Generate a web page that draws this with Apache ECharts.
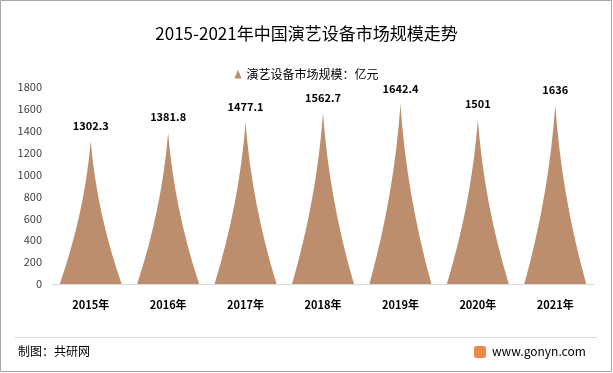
<!DOCTYPE html>
<html>
<head>
<meta charset="utf-8">
<script src="https://cdn.jsdelivr.net/npm/echarts@6/dist/echarts.min.js"></script>
<style>
  html, body { margin: 0; padding: 0; background: #fff; }
  #chart { width: 613px; height: 373px; }
</style>
</head>
<body>
<div id="chart"></div>
<script>
// 数据
var years = ['2015年', '2016年', '2017年', '2018年', '2019年', '2020年', '2021年'];
var marketSize = [1302.3, 1381.8, 1477.1, 1562.7, 1642.4, 1501, 1636];
var seriesName = '演艺设备市场规模：亿元';

// 山峰形状（两侧内凹）
var peakPath = 'path://M0,10 C2.67,6.67 4.33,3.33 5,0 C5.67,3.33 7.33,6.67 10,10 Z';
var font = '"Microsoft YaHei", "Noto Sans CJK SC", sans-serif';

var chart = echarts.init(document.getElementById('chart'));
var option = {
  backgroundColor: '#fff',
  title: {
    text: '2015-2021年中国演艺设备市场规模走势',
    left: 'center',
    top: 20,
    textStyle: { fontSize: 17, fontWeight: 'normal', color: '#000', fontFamily: font }
  },
  legend: {
    data: [{ name: seriesName, icon: 'triangle' }],
    top: 63,
    left: 'center',
    itemWidth: 7,
    itemHeight: 9,
    itemGap: 4,
    textStyle: { fontSize: 12, color: '#000', fontFamily: font }
  },
  grid: { left: 52, right: 19, top: 87, bottom: 89 },
  xAxis: {
    type: 'category',
    data: years,
    axisTick: { show: false },
    axisLine: { lineStyle: { color: '#d9d9d9' } },
    axisLabel: { color: '#000', fontWeight: 'bold', fontSize: 11, margin: 15, fontFamily: font }
  },
  yAxis: {
    type: 'value',
    min: 0,
    max: 1800,
    interval: 200,
    splitLine: { show: false },
    axisLine: { show: false },
    axisTick: { show: false },
    axisLabel: {
      color: '#404040', fontSize: 11, margin: 10, fontFamily: font,
      formatter: function (v) { return String(v); }
    }
  },
  series: [{
    name: seriesName,
    type: 'pictorialBar',
    symbol: peakPath,
    barCategoryGap: '20%',
    data: marketSize,
    itemStyle: { color: '#bd8e6e' },
    label: {
      show: true,
      position: 'top',
      distance: 10,
      color: '#000',
      fontWeight: 'bold',
      fontSize: 11,
      fontFamily: font
    }
  }],
  graphic: [
    { type: 'rect', shape: { x: 0.5, y: 0.5, width: 611, height: 371 },
      style: { fill: 'none', stroke: '#a6a6a6', lineWidth: 1 } },
    { type: 'line', shape: { x1: 15, y1: 337.5, x2: 597, y2: 337.5 },
      style: { stroke: '#d9d9d9', lineWidth: 1 } },
    { type: 'text', left: 18, top: 345,
      style: { text: '制图：共研网', fontSize: 12, fill: '#000', fontFamily: font } },
    { type: 'rect', shape: { x: 474, y: 346, width: 12, height: 12, r: 2 },
      style: { fill: '#f08a4b' } },
    { type: 'text', left: 492, top: 345,
      style: { text: 'www.gonyn.com', fontSize: 12, fill: '#000', fontFamily: font } }
  ]
};
chart.setOption(option);
</script>
</body>
</html>
